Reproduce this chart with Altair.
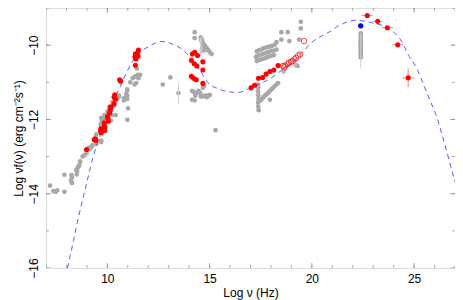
import altair as alt
import pandas as pd

# ---- data ----
gray_x = [7.20, 7.36, 7.48, 7.55, 7.90, 7.90, 8.24, 8.27, 8.22, 8.27, 8.50, 8.48, 8.55, 8.63, 8.67, 8.60, 8.52,
          8.79, 8.87, 8.98, 9.01, 9.14, 9.10, 9.22, 9.27, 9.41, 9.46, 9.46, 9.70, 9.70, 9.65, 9.78, 9.70, 9.74,
          9.70, 9.67, 9.72, 9.86, 9.86, 9.93, 10.01, 10.10, 10.25, 10.25, 10.33, 10.41, 10.49, 10.49, 10.57,
          10.57, 10.81, 10.81, 10.92, 10.97, 10.97, 10.97, 10.97, 11.01, 10.98, 10.41, 10.25, 10.17, 10.12,
          11.12, 11.24, 11.36, 11.49, 11.60, 11.52, 11.44, 11.33, 11.41,
          12.71, 13.08, 13.48, 15.29,
          14.27, 14.27, 14.57, 14.62, 14.65, 14.70, 14.78, 14.86, 14.93, 15.01, 15.10, 14.73, 14.82, 14.67,
          14.62, 14.60, 14.68,
          14.14, 14.22, 14.35, 14.30, 14.46, 14.54, 14.67, 14.73, 14.57, 14.67, 14.78, 14.86, 14.93, 15.01,
          14.14, 14.27,
          17.31, 17.42, 17.55, 17.66, 17.79, 17.92, 18.05, 18.18,
          17.31, 17.44, 17.58, 17.71, 17.85, 17.99, 18.12, 18.27,
          17.31, 17.45, 17.59, 17.73, 17.86, 18.00, 18.14, 17.27,
          17.37, 17.38, 17.37, 17.38, 17.39, 17.37, 17.38, 17.40,
          17.48, 17.55, 17.63, 17.71, 17.79, 17.87, 17.95, 18.03, 18.11, 18.19, 18.27, 18.35, 17.95,
          18.51, 18.82, 19.46, 19.46, 18.51, 18.90, 19.38, 18.27,
          18.62, 19.22, 19.30,
          22.39, 22.39, 22.39, 22.39, 22.39, 22.39, 22.39, 22.39, 22.39, 22.39, 22.39, 22.39, 22.39, 22.39]
gray_y = [-13.78, -13.93, -13.95, -13.91, -13.95, -13.49, -13.50, -13.56, -13.65, -13.71, -13.48, -13.36, -13.30,
          -13.22, -13.13, -13.26, -13.40,
          -13.00, -12.97, -12.91, -12.83, -12.79, -12.76, -12.74, -12.70, -12.48, -12.40, -12.66, -12.57, -12.61,
          -12.31, -12.29, -12.18, -12.01, -11.96, -12.14, -12.08, -11.96, -11.88, -11.88, -11.79, -11.66, -11.66,
          -11.53, -11.62, -11.49, -11.40, -11.45, -11.36, -11.38, -11.49, -11.43, -11.32, -11.23, -11.19, -11.36,
          -11.45, -11.70, -12.01, -11.88, -11.88, -12.03, -11.77,
          -11.00, -10.89, -10.84, -10.80, -10.80, -10.89, -10.63, -11.06, -11.02,
          -11.06, -10.87, -11.29, -12.29,
          -9.65, -9.81, -9.79, -9.85, -9.92, -9.98, -10.02, -10.08, -10.13, -10.19, -10.24, -10.14, -10.11, -10.06,
          -10.15, -9.88, -9.95,
          -11.23, -11.26, -11.29, -11.36, -11.23, -11.29, -11.15, -11.10, -11.38, -11.38, -11.36, -11.40, -11.36,
          -11.34, -11.47, -11.49,
          -10.17, -10.13, -10.11, -10.08, -10.06, -10.04, -10.02, -9.99,
          -10.30, -10.27, -10.24, -10.22, -10.19, -10.16, -10.15, -10.12,
          -10.43, -10.40, -10.37, -10.35, -10.31, -10.29, -10.27, -10.32,
          -11.06, -11.15, -11.25, -11.35, -11.45, -11.55, -11.66, -11.75,
          -11.49, -11.45, -11.40, -11.36, -11.32, -11.28, -11.23, -11.19, -11.15, -11.10, -11.06, -11.02, -11.47,
          -9.65, -9.65, -9.37, -9.55, -9.85, -9.89, -9.85, -9.92,
          -10.71, -10.54, -10.56,
          -9.68, -9.72, -9.77, -9.83, -9.87, -9.92, -9.97, -10.02, -10.06, -10.11, -10.16, -10.21, -10.27, -10.33]

# gray error bars (x, y_low, y_high)
gerr_x = [13.48, 14.62, 14.55, 22.39, 18.62, 19.22]
gerr_lo = [-11.58, -10.40, -10.30, -10.63, -10.80, -10.62]
gerr_hi = [-11.02, -9.75, -9.80, -9.68, -10.62, -10.46]

red_x = [8.98, 9.36, 9.41, 9.45, 9.67, 9.70, 9.68, 9.85, 9.86, 9.88, 9.87, 10.01, 10.05, 10.03,
         10.11, 10.14, 10.17, 10.15, 10.33, 10.36, 10.40, 10.33, 10.60, 10.65,
         11.35, 11.37, 11.37, 11.40, 11.50, 11.52, 11.48,
         14.16, 14.27, 14.41, 14.11, 14.25, 14.38, 14.67, 14.67, 14.11, 14.22, 14.35, 14.67,
         17.03, 17.20, 17.39, 17.59, 17.76, 17.95, 18.14, 18.35,
         22.71, 23.22, 23.69, 24.20, 24.71]
red_y = [-12.81, -12.55, -12.53, -12.56, -12.31, -12.36, -12.25, -12.09, -12.17, -12.22, -12.30, -11.92, -12.05,
         -11.97, -11.83, -11.75, -11.66, -11.70, -11.40, -11.34, -11.45, -11.58, -10.93, -10.97,
         -10.32, -10.24, -10.54, -10.37, -10.30, -10.13, -10.20,
         -10.24, -10.19, -10.28, -10.41, -10.50, -10.56, -10.45, -10.67, -10.84, -10.89, -10.93, -11.03,
         -11.15, -11.08, -10.89, -10.87, -10.78, -10.71, -10.67, -10.55,
         -9.20, -9.36, -9.53, -9.99, -10.88]

# red error bars (x_low, x_high, y_low, y_high)
rerr_xlo = [17.03, 17.20, 17.39, 17.59, 17.76, 17.95, 18.14, 18.35, 22.44, 22.99, 23.41, 23.92, 24.42, 24.71]
rerr_xhi = [17.03, 17.20, 17.39, 17.59, 17.76, 17.95, 18.14, 18.35, 22.98, 23.45, 23.97, 24.48, 25.00, 24.71]
rerr_ylo = [-11.22, -11.15, -10.96, -10.94, -10.85, -10.78, -10.74, -10.62, -9.20, -9.36, -9.53, -9.99, -10.88, -11.13]
rerr_yhi = [-11.08, -11.01, -10.82, -10.80, -10.71, -10.64, -10.60, -10.48, -9.20, -9.36, -9.53, -9.99, -10.88, -10.63]

open_x = [18.59, 18.65, 18.70, 18.82, 18.88, 18.98, 19.06, 19.15, 19.22, 19.33, 19.43, 19.62]
open_y = [-10.56, -10.60, -10.55, -10.51, -10.47, -10.45, -10.43, -10.38, -10.34, -10.28, -10.25, -9.89]

blue_x = [22.39]
blue_y = [-9.48]

model_x = [8.05, 8.35, 8.60, 8.82, 9.06, 9.30, 9.56, 9.90, 10.17, 10.57, 10.97, 11.44, 12.08, 12.63, 13.27,
           13.74, 14.22, 14.62, 14.93, 15.41, 15.97, 16.44, 16.92, 17.50, 18.00, 18.60, 19.15, 19.60, 20.10,
           20.60, 20.90, 21.30, 21.70, 22.20, 22.65, 23.10, 23.60, 24.06, 24.38, 24.70, 25.17, 25.49, 25.81,
           26.12, 26.36, 27.00]
model_y = [-16.00, -15.25, -14.60, -14.10, -13.55, -13.02, -12.57, -12.05, -11.66, -11.19, -10.70, -10.28,
           -10.02, -9.90, -9.99, -10.15, -10.45, -10.76, -11.02, -11.17, -11.26, -11.27, -11.17, -11.03, -10.89,
           -10.64, -10.41, -10.15, -9.88, -9.72, -9.63, -9.48, -9.38, -9.33, -9.36, -9.42, -9.50, -9.68, -9.89,
           -10.24, -10.67, -11.10, -11.53, -11.95, -12.40, -13.69]

x_minor = list(range(7, 28))
x_major = [10, 15, 20, 25]
y_minor = list(range(-16, -8))
y_major = [-16, -14, -12, -10]

# ---- chart ----
xs = alt.Scale(domain=[7, 27], nice=False, zero=False)
ys = alt.Scale(domain=[-16, -9], nice=False, zero=False)
FONT = "Liberation Sans"

gray = pd.DataFrame({"x": gray_x, "y": gray_y})
gerr = pd.DataFrame({"x": gerr_x, "lo": gerr_lo, "hi": gerr_hi})
red = pd.DataFrame({"x": red_x, "y": red_y})
rerr = pd.DataFrame({"xlo": rerr_xlo, "xhi": rerr_xhi, "ylo": rerr_ylo, "yhi": rerr_yhi})
opn = pd.DataFrame({"x": open_x, "y": open_y})
blue = pd.DataFrame({"x": blue_x, "y": blue_y})
model = pd.DataFrame({"x": model_x, "y": model_y})

base_x = alt.X("x:Q", scale=xs, title="Log ν (Hz)",
               axis=alt.Axis(values=x_major, ticks=False, grid=False, domain=False, labelPadding=5,
                             titlePadding=3, labelFontSize=12, titleFontSize=12,
                             labelFont=FONT, titleFont=FONT, titleFontWeight="normal",
                             labelColor="black", titleColor="black"))
base_y = alt.Y("y:Q", scale=ys, title="Log νf(ν) (erg cm⁻²s⁻¹)",
               axis=alt.Axis(values=y_major, ticks=False, grid=False, domain=False, labelAngle=-90,
                             labelAlign="center", labelBaseline="bottom", labelPadding=6,
                             titlePadding=2, labelFontSize=12, titleFontSize=12,
                             labelFont=FONT, titleFont=FONT, titleFontWeight="normal",
                             labelColor="black", titleColor="black"))

gerr_layer = alt.Chart(gerr).mark_rule(color="#d0d0d0", strokeWidth=1).encode(
    x=alt.X("x:Q", scale=xs), y=alt.Y("lo:Q", scale=ys), y2="hi:Q")
gray_layer = alt.Chart(gray).mark_circle(color="#a8a8a8", opacity=1, size=22).encode(x=base_x, y=base_y)
model_layer = alt.Chart(model).mark_line(color="#5a5aff", strokeWidth=1, strokeDash=[5, 4],
                                         interpolate="monotone", clip=True).encode(
    x=alt.X("x:Q", scale=xs), y=alt.Y("y:Q", scale=ys))
rerr_layer = alt.Chart(rerr).mark_rule(color="#ff8080", strokeWidth=1).encode(
    x=alt.X("xlo:Q", scale=xs), x2="xhi:Q", y=alt.Y("ylo:Q", scale=ys), y2="yhi:Q")
red_layer = alt.Chart(red).mark_circle(color="#ff0000", opacity=1, size=26).encode(
    x=alt.X("x:Q", scale=xs), y=alt.Y("y:Q", scale=ys))
open_layer = alt.Chart(opn).mark_point(color="#ff0000", filled=False, size=30, strokeWidth=1).encode(
    x=alt.X("x:Q", scale=xs), y=alt.Y("y:Q", scale=ys))
blue_layer = alt.Chart(blue).mark_circle(color="#0000ff", opacity=1, size=28).encode(
    x=alt.X("x:Q", scale=xs), y=alt.Y("y:Q", scale=ys))

tick_color = "#888888"
xt_minor = pd.DataFrame({"x": x_minor})
xt_major = pd.DataFrame({"x": x_major})
yt_minor = pd.DataFrame({"y": y_minor})
yt_major = pd.DataFrame({"y": y_major})

ticks = []
for df, size in ((xt_minor, 6), (xt_major, 10)):
    for edge in (-16, -9):
        ticks.append(alt.Chart(df).mark_tick(orient="vertical", color=tick_color, size=size,
                                             thickness=1, clip=True).encode(
            x=alt.X("x:Q", scale=xs), y=alt.datum(edge, scale=ys)))
for df, size in ((yt_minor, 6), (yt_major, 10)):
    for edge in (7, 27):
        ticks.append(alt.Chart(df).mark_tick(orient="horizontal", color=tick_color, size=size,
                                             thickness=1, clip=True).encode(
            y=alt.Y("y:Q", scale=ys), x=alt.datum(edge, scale=xs)))

chart = alt.layer(gray_layer, gerr_layer, model_layer, rerr_layer, red_layer, open_layer, blue_layer,
                  *ticks).properties(
    width=409, height=260,
    autosize=alt.AutoSizeParams(type="none"),
    padding={"left": 38, "top": 0, "right": 0, "bottom": 32},
).configure_view(stroke="#888888", strokeWidth=1).configure(background="white")

chart.save("out.html", embed_options={"renderer": "svg", "actions": False})
